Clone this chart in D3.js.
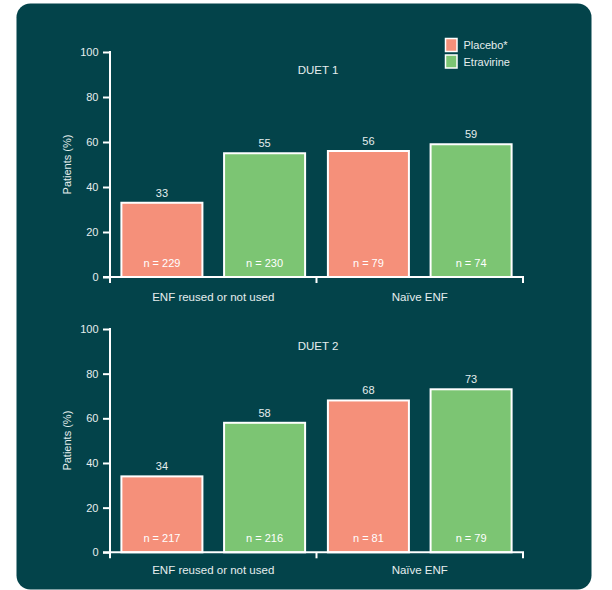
<!DOCTYPE html>
<html>
<head>
<meta charset="utf-8">
<script src="https://cdn.jsdelivr.net/npm/d3@7"></script>
<style>
  html, body { margin: 0; padding: 0; background: #ffffff; }
  svg { display: block; }
  text { font-family: "Liberation Sans", Arial, Helvetica, sans-serif; }
</style>
</head>
<body>
<svg id="chart" width="612" height="590"></svg>
<script>
// Response rates by enfuvirtide (ENF) status in the DUET trials
const groups = ["ENF reused or not used", "Naïve ENF"];
const series = ["Placebo*", "Etravirine"];
const yTicks = [0, 20, 40, 60, 80, 100];

const duet1Values = [33, 55, 56, 59];
const duet1N = [229, 230, 79, 74];
const duet2Values = [34, 58, 68, 73];
const duet2N = [217, 216, 81, 79];

const colors = { "Placebo*": "#F5907A", "Etravirine": "#7CC573" };
const bg = "#03434A";
const ink = "#E6EEEE";

const svg = d3.select("#chart");

// Rounded dark panel behind both charts
svg.append("rect")
  .attr("x", 16.5).attr("y", 3.5)
  .attr("width", 575).attr("height", 586)
  .attr("rx", 14).attr("ry", 14)
  .attr("fill", bg);

// Build rows of bar data for one trial
function rows(values, ns) {
  const out = [];
  groups.forEach((g, gi) => {
    series.forEach((s, si) => {
      const k = gi * series.length + si;
      out.push({ group: g, series: s, value: values[k], n: ns[k] });
    });
  });
  return out;
}

const panels = [
  { title: "DUET 1", data: rows(duet1Values, duet1N), top: 52, bottom: 277, catDy: 20, titleDy: 18 },
  { title: "DUET 2", data: rows(duet2Values, duet2N), top: 329, bottom: 552.3, catDy: 17.5, titleDy: 17 }
];

const x0 = d3.scaleBand().domain(groups).range([110, 523]).paddingInner(0).paddingOuter(0);
const x1 = d3.scaleBand().domain(series).range([0, x0.bandwidth()]).paddingInner(0.211).paddingOuter(0.111);

panels.forEach(p => {
  const y = d3.scaleLinear().domain([0, 100]).range([p.bottom, p.top]);
  const g = svg.append("g");

  // Bars
  g.selectAll("rect.bar").data(p.data).join("rect")
    .attr("class", "bar")
    .attr("x", d => x0(d.group) + x1(d.series))
    .attr("y", d => y(d.value))
    .attr("width", x1.bandwidth())
    .attr("height", d => y(0) - y(d.value))
    .attr("fill", d => colors[d.series])
    .attr("stroke", "#ffffff")
    .attr("stroke-width", 2);

  // Value labels above bars
  g.selectAll("text.val").data(p.data).join("text")
    .attr("class", "val")
    .attr("x", d => x0(d.group) + x1(d.series) + x1.bandwidth() / 2)
    .attr("y", d => y(d.value) - 6)
    .attr("text-anchor", "middle")
    .attr("font-size", 11)
    .attr("fill", ink)
    .text(d => d.value);

  // Sample sizes inside bars
  g.selectAll("text.n").data(p.data).join("text")
    .attr("class", "n")
    .attr("x", d => x0(d.group) + x1(d.series) + x1.bandwidth() / 2)
    .attr("y", y(0) - 10)
    .attr("text-anchor", "middle")
    .attr("font-size", 11)
    .attr("fill", "#ffffff")
    .text(d => "n = " + d.n);

  // Y axis
  const yAxis = g.append("g")
    .attr("transform", "translate(110,0)")
    .call(d3.axisLeft(y).tickValues(yTicks).tickSize(7).tickSizeOuter(0).tickPadding(4.5));
  yAxis.select(".domain").remove();
  yAxis.selectAll(".tick line").attr("stroke", "#ffffff").attr("stroke-width", 2);
  yAxis.selectAll(".tick text")
    .attr("fill", ink).attr("font-size", 11)
    .attr("font-family", "Liberation Sans, Arial, sans-serif");
  g.append("line")
    .attr("x1", 110).attr("x2", 110)
    .attr("y1", y(100) - 1).attr("y2", y(0) + 6)
    .attr("stroke", "#ffffff").attr("stroke-width", 2);

  // X axis baseline with ticks at group boundaries
  g.append("line")
    .attr("x1", 103).attr("x2", x0.range()[1] + 1)
    .attr("y1", y(0)).attr("y2", y(0))
    .attr("stroke", "#ffffff").attr("stroke-width", 2);
  const bounds = groups.map(gr => x0(gr)).concat([x0(groups[groups.length - 1]) + x0.bandwidth()]);
  g.selectAll("line.xtick").data(bounds.slice(1)).join("line")
    .attr("class", "xtick")
    .attr("x1", d => d).attr("x2", d => d)
    .attr("y1", y(0)).attr("y2", y(0) + 6)
    .attr("stroke", "#ffffff").attr("stroke-width", 2);

  // Category labels
  const xAxis = g.append("g")
    .attr("transform", `translate(0,${y(0)})`)
    .call(d3.axisBottom(x0).tickSize(0).tickPadding(0));
  xAxis.select(".domain").remove();
  xAxis.selectAll(".tick text")
    .attr("dy", null)
    .attr("y", p.catDy + 4)
    .attr("fill", ink).attr("font-size", 11.5)
    .attr("font-family", "Liberation Sans, Arial, sans-serif");

  // Y axis title
  g.append("text")
    .attr("transform", `translate(71,${(p.top + p.bottom) / 2}) rotate(-90)`)
    .attr("text-anchor", "middle")
    .attr("font-size", 11)
    .attr("fill", ink)
    .text("Patients (%)");

  // Trial title
  g.append("text")
    .attr("x", 318)
    .attr("y", p.top + p.titleDy + 4)
    .attr("text-anchor", "middle")
    .attr("font-size", 11.5)
    .attr("fill", ink)
    .text(p.title);
});

// Legend
const legend = svg.append("g").attr("transform", "translate(445,38)");
series.forEach((s, i) => {
  const row = legend.append("g").attr("transform", `translate(0,${i * 16.5})`);
  row.append("rect")
    .attr("x", 0.5).attr("y", 0.5)
    .attr("width", 11.5).attr("height", 13)
    .attr("fill", colors[s])
    .attr("stroke", "#ffffff").attr("stroke-width", 1.5);
  row.append("text")
    .attr("x", 18.5).attr("y", 11)
    .attr("font-size", 11)
    .attr("fill", ink)
    .text(s);
});
</script>
</body>
</html>
